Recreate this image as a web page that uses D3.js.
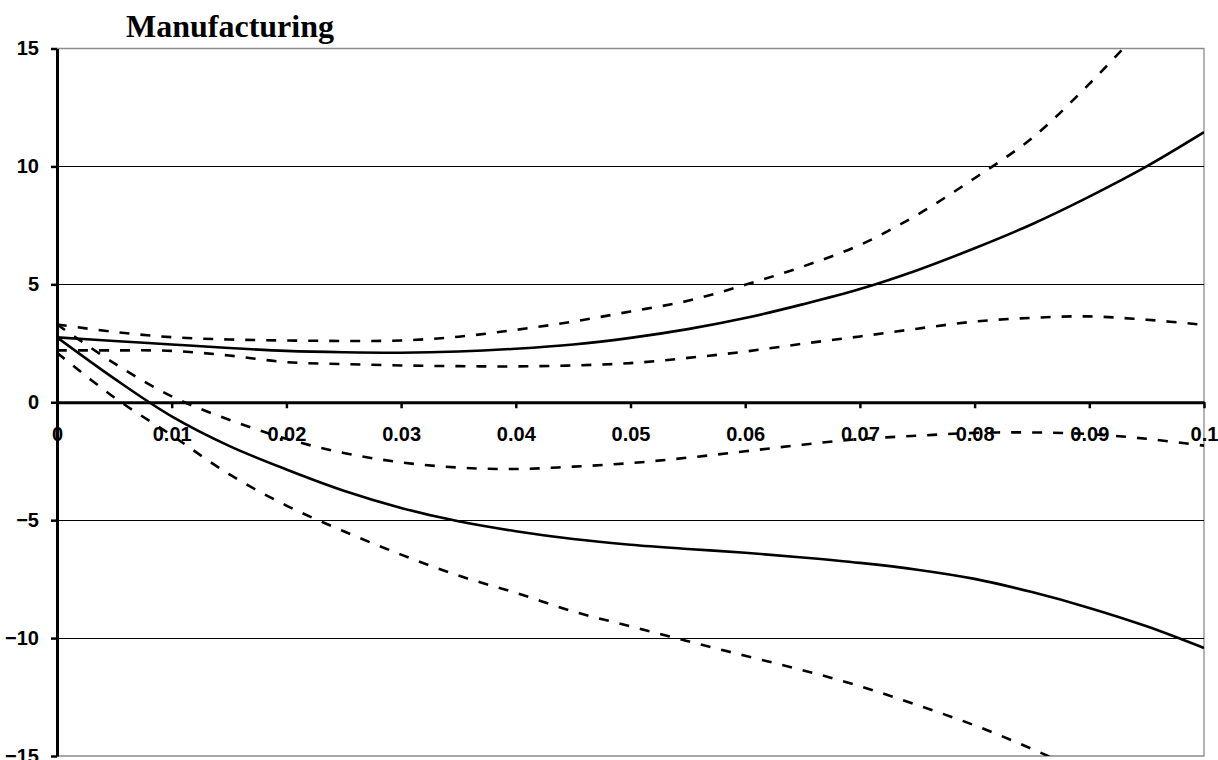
<!DOCTYPE html>
<html>
<head>
<meta charset="utf-8">
<script src="https://cdn.jsdelivr.net/npm/d3@7"></script>
<style>
  html, body { margin: 0; padding: 0; background: #fff; }
  svg { display: block; }
  .tick text { font-family: "Liberation Sans", Arial, sans-serif; font-weight: bold; font-size: 20px; fill: #000; }
</style>
</head>
<body>
<svg id="chart" width="1218" height="760"></svg>
<script>
// Horizontal positions (0 to 0.1, in steps of 0.005)
const xs = [0, 0.005, 0.01, 0.015, 0.02, 0.025, 0.03, 0.035, 0.04, 0.045, 0.05,
            0.055, 0.06, 0.065, 0.07, 0.075, 0.08, 0.085, 0.09, 0.095, 0.1];

// Upper response: estimate and its band
const upperMid  = [2.75, 2.6, 2.45, 2.3, 2.18, 2.12, 2.1, 2.15, 2.27, 2.45, 2.73,
                   3.1, 3.57, 4.15, 4.8, 5.6, 6.53, 7.55, 8.72, 10.0, 11.45];
const upperHigh = [3.3, 2.98, 2.76, 2.66, 2.62, 2.6, 2.62, 2.78, 3.07, 3.42, 3.85,
                   4.3, 4.98, 5.75, 6.67, 7.95, 9.5, 11.2, 13.5, 16.1, 19.0];
const upperLow  = [2.2, 2.2, 2.18, 1.98, 1.7, 1.62, 1.56, 1.53, 1.52, 1.56, 1.66,
                   1.88, 2.15, 2.48, 2.79, 3.12, 3.42, 3.58, 3.64, 3.5, 3.28];

// Lower response: estimate and its band
const lowerMid  = [2.75, 1.0, -0.6, -1.85, -2.85, -3.75, -4.48, -5.05, -5.47, -5.8, -6.04,
                   -6.22, -6.38, -6.58, -6.81, -7.1, -7.49, -8.05, -8.72, -9.5, -10.42];
const lowerHigh = [3.3, 1.65, 0.25, -0.74, -1.55, -2.15, -2.55, -2.77, -2.83, -2.73, -2.58,
                   -2.35, -2.08, -1.8, -1.56, -1.42, -1.3, -1.28, -1.35, -1.55, -1.84];
const lowerLow  = [2.1, 0.2, -1.4, -3.05, -4.38, -5.47, -6.46, -7.35, -8.08, -8.87, -9.5,
                   -10.13, -10.75, -11.36, -12.04, -12.84, -13.7, -14.7, -15.8, -17.0, -18.4];

const xTicks = [0, 0.01, 0.02, 0.03, 0.04, 0.05, 0.06, 0.07, 0.08, 0.09, 0.1];
const yTicks = [-15, -10, -5, 0, 5, 10, 15];
const gridValues = [-10, -5, 5, 10];
const chartTitle = "Manufacturing";

const series = [
  { values: upperHigh, dashed: true },
  { values: upperLow,  dashed: true },
  { values: lowerHigh, dashed: true },
  { values: lowerLow,  dashed: true },
  { values: upperMid,  dashed: false },
  { values: lowerMid,  dashed: false }
];

const svg = d3.select("#chart");
const plotLeft = 57, plotRight = 1204, plotTop = 48.5, plotBottom = 756;

const x = d3.scaleLinear().domain([0, 0.1]).range([plotLeft, plotRight]);
const y = d3.scaleLinear().domain([-15, 15]).range([plotBottom, plotTop]);

// Title
svg.append("text")
  .attr("x", 230).attr("y", 37)
  .attr("text-anchor", "middle")
  .attr("font-family", "'Liberation Serif', 'Times New Roman', serif")
  .attr("font-weight", "bold")
  .attr("font-size", 32)
  .text(chartTitle);

// Plot frame (top, right, bottom) in grey
svg.append("path")
  .attr("d", `M${plotLeft},${y(15)}H${x(0.1)}V${y(-15)}H${plotLeft}`)
  .attr("fill", "none").attr("stroke", "#8c8c8c").attr("stroke-width", 1.3);

// Horizontal gridlines
svg.append("g").selectAll("line").data(gridValues).join("line")
  .attr("x1", plotLeft).attr("x2", plotRight)
  .attr("y1", d => Math.round(y(d)) + 0.5).attr("y2", d => Math.round(y(d)) + 0.5)
  .attr("stroke", "#000").attr("stroke-width", 1);

// Y axis
const yAxis = svg.append("g")
  .attr("transform", `translate(${plotLeft},0)`)
  .call(d3.axisLeft(y).tickValues(yTicks).tickSize(6).tickSizeOuter(0).tickPadding(12).tickFormat(d3.format("d")));
yAxis.select(".domain").attr("stroke", "#000").attr("stroke-width", 3);
yAxis.selectAll(".tick line").attr("stroke", "#000").attr("stroke-width", 2.5);

// X axis along zero
const xAxis = svg.append("g")
  .attr("transform", `translate(0,${y(0)})`)
  .call(d3.axisBottom(x).tickValues(xTicks).tickSize(6).tickSizeOuter(0).tickPadding(19).tickFormat(d3.format("~g")));
xAxis.select(".domain").attr("stroke", "#000").attr("stroke-width", 3);
xAxis.selectAll(".tick line").attr("stroke", "#000").attr("stroke-width", 2.5);

// Clip curves to the plot area
svg.append("clipPath").attr("id", "plot-clip")
  .append("rect").attr("x", plotLeft).attr("y", plotTop)
  .attr("width", plotRight - plotLeft).attr("height", plotBottom - plotTop);

const line = d3.line()
  .x((d, i) => x(xs[i]))
  .y(d => y(d))
  .curve(d3.curveCatmullRom.alpha(0.5));

svg.append("g").attr("clip-path", "url(#plot-clip)")
  .selectAll("path").data(series).join("path")
  .attr("d", d => line(d.values))
  .attr("fill", "none")
  .attr("stroke", "#000")
  .attr("stroke-width", 2.6)
  .attr("stroke-dasharray", d => d.dashed ? "10,11" : null);
</script>
</body>
</html>
